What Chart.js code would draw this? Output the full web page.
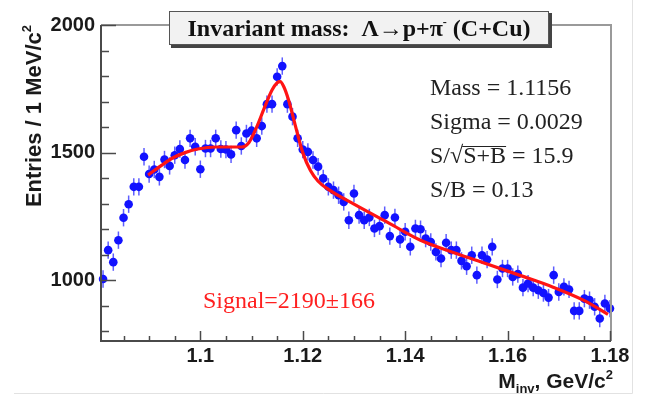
<!DOCTYPE html>
<html>
<head>
<meta charset="utf-8">
<script src="https://cdn.jsdelivr.net/npm/chart.js@4.4.1/dist/chart.umd.min.js"></script>
<style>
  html, body { margin: 0; padding: 0; background: #fff; }
  #wrap { width: 645px; height: 404px; position: relative; }
</style>
</head>
<body>
<div id="wrap"><canvas id="chart"></canvas></div>
<script>
// invariant mass bins (GeV/c^2), 1 MeV wide
const massBins = [
  1.081, 1.082, 1.083, 1.084, 1.085, 1.086, 1.087, 1.088, 1.089, 1.090,
  1.091, 1.092, 1.093, 1.094, 1.095, 1.096, 1.097, 1.098, 1.099, 1.100,
  1.101, 1.102, 1.103, 1.104, 1.105, 1.106, 1.107, 1.108, 1.109, 1.110,
  1.111, 1.112, 1.113, 1.114, 1.115, 1.116, 1.117, 1.118, 1.119, 1.120,
  1.121, 1.122, 1.123, 1.124, 1.125, 1.126, 1.127, 1.128, 1.129, 1.130,
  1.131, 1.132, 1.133, 1.134, 1.135, 1.136, 1.137, 1.138, 1.139, 1.140,
  1.141, 1.142, 1.143, 1.144, 1.145, 1.146, 1.147, 1.148, 1.149, 1.150,
  1.151, 1.152, 1.153, 1.154, 1.155, 1.156, 1.157, 1.158, 1.159, 1.160,
  1.161, 1.162, 1.163, 1.164, 1.165, 1.166, 1.167, 1.168, 1.169, 1.170,
  1.171, 1.172, 1.173, 1.174, 1.175, 1.176, 1.177, 1.178, 1.179, 1.180
];
const entries = [
  1005, 1118, 1071, 1157, 1245, 1298, 1366, 1366, 1484, 1416,
  1434, 1405, 1473, 1448, 1490, 1514, 1471, 1556, 1523, 1435,
  1516, 1516, 1556, 1514, 1512, 1493, 1588, 1526, 1575, 1586,
  1556, 1604, 1690, 1690, 1797, 1839, 1690, 1641, 1556, 1512,
  1503, 1471, 1445, 1399, 1366, 1353, 1333, 1307, 1235, 1340,
  1255, 1235, 1246, 1203, 1212, 1255, 1173, 1246, 1160, 1190,
  1131, 1203, 1200, 1163, 1150, 1111, 1085, 1147, 1118, 1118,
  1076, 1055, 1098, 1020, 1098, 1081, 1131, 1003, 1046, 1046,
  1013, 1024, 971, 987, 971, 961, 950, 932, 1020, 954,
  974, 964, 880, 880, 928, 922, 896, 850, 909, 889
];
const errBar = 34;

// fit curve
const fitMass = [
  1.0898, 1.0922, 1.0945, 1.0970, 1.0995, 1.1030, 1.1060, 1.1080, 1.1095, 1.1110,
  1.1125, 1.1140, 1.1150, 1.1156, 1.1163, 1.1172, 1.1185, 1.1200, 1.1215, 1.1230,
  1.1250, 1.1300, 1.1370, 1.1430, 1.1500, 1.1560, 1.1620, 1.1690, 1.1750, 1.1796
];
const fitValues = [
  1412, 1447, 1478, 1500, 1514, 1522, 1522, 1522, 1540, 1600,
  1675, 1745, 1774, 1778, 1758, 1708, 1610, 1500, 1430, 1388,
  1356, 1298, 1222, 1157, 1105, 1064, 1022, 972, 920, 866
];

const xTickLabels = [1.1, 1.12, 1.14, 1.16, 1.18];
const yTickLabels = [1000, 1500, 2000];
const statLines = ['Mass = 1.1156', 'Sigma = 0.0029', 'S/\u221AS+B = 15.9', 'S/B = 0.13'];
const signalText = 'Signal=2190\u00B1166';

const SANS = '"Liberation Sans", Arial, sans-serif';
const SERIF = '"Liberation Serif", "Times New Roman", serif';

const rootStyle = {
  id: 'rootStyle',
  beforeDatasetsDraw(chart) {
    const { ctx, scales: { x, y } } = chart;
    ctx.save();
    ctx.strokeStyle = 'rgba(40,40,255,0.75)';
    ctx.lineWidth = 1.5;
    massBins.forEach((m, i) => {
      const px = x.getPixelForValue(m);
      ctx.beginPath();
      ctx.moveTo(px, y.getPixelForValue(entries[i] - errBar));
      ctx.lineTo(px, y.getPixelForValue(entries[i] + errBar));
      ctx.stroke();
    });
    ctx.restore();
  },
  afterDraw(chart) {
    const { ctx, chartArea: a, scales: { x, y } } = chart;
    ctx.save();

    // outer picture edge
    ctx.strokeStyle = '#e2e2e2';
    ctx.lineWidth = 1;
    ctx.beginPath();
    ctx.moveTo(14, 393.5); ctx.lineTo(632.5, 393.5); ctx.lineTo(632.5, 0);
    ctx.stroke();

    // frame top/right
    ctx.strokeStyle = '#9a9a9a';
    ctx.lineWidth = 2;
    ctx.beginPath();
    ctx.moveTo(a.left, a.top); ctx.lineTo(a.right + 1, a.top); ctx.lineTo(a.right + 1, a.bottom);
    ctx.stroke();

    // axes left/bottom
    ctx.strokeStyle = '#4a4a4a';
    ctx.beginPath();
    ctx.moveTo(a.left, a.top); ctx.lineTo(a.left, a.bottom); ctx.lineTo(a.right + 1, a.bottom);
    ctx.stroke();

    // ticks, pointing inside
    ctx.lineWidth = 1.5;
    for (let v = 1.085; v <= 1.1801; v += 0.005) {
      const px = Math.round(x.getPixelForValue(v)) + 0.5;
      const major = xTickLabels.some(t => Math.abs(t - v) < 1e-6);
      ctx.beginPath();
      ctx.moveTo(px, a.bottom);
      ctx.lineTo(px, a.bottom - (major ? 10 : 5));
      ctx.stroke();
    }
    for (let v = 800; v <= 2000; v += 100) {
      const py = Math.round(y.getPixelForValue(v)) + 0.5;
      const major = yTickLabels.includes(v);
      ctx.beginPath();
      ctx.moveTo(a.left, py);
      ctx.lineTo(a.left + (major ? 15 : 8), py);
      ctx.stroke();
    }

    // title box
    ctx.fillStyle = '#444';
    ctx.fillRect(171, 13, 381, 35);
    ctx.fillStyle = '#f2f2f2';
    ctx.fillRect(169, 11, 380, 34);
    ctx.strokeStyle = '#555';
    ctx.lineWidth = 1;
    ctx.strokeRect(169.5, 11.5, 379, 33);

    ctx.fillStyle = '#111';
    ctx.textBaseline = 'alphabetic';
    ctx.font = 'bold 24px ' + SERIF;
    const t1 = 'Invariant mass:  \u039B\u2192p+\u03C0';
    const t2 = ' (C+Cu)';
    const w1 = ctx.measureText(t1).width;
    const w2 = ctx.measureText(t2).width;
    ctx.font = 'bold 12px ' + SERIF;
    const ws = ctx.measureText('-').width;
    const tx = 359 - (w1 + ws + w2) / 2;
    ctx.font = 'bold 24px ' + SERIF;
    ctx.fillText(t1, tx, 36);
    ctx.font = 'bold 12px ' + SERIF;
    ctx.fillText('-', tx + w1, 26);
    ctx.font = 'bold 24px ' + SERIF;
    ctx.fillText(t2, tx + w1 + ws, 36);

    // fit results
    ctx.font = '24px ' + SERIF;
    ctx.fillStyle = '#222';
    ctx.strokeStyle = '#222';
    const lineY = [95, 129, 163, 197];
    statLines.forEach((s, i) => ctx.fillText(s, 430, lineY[i]));
    const pre = ctx.measureText('S/\u221A').width;
    const rad = ctx.measureText('S+B').width;
    ctx.lineWidth = 1.2;
    ctx.beginPath();
    ctx.moveTo(430 + pre - 1, 146.5);
    ctx.lineTo(430 + pre + rad, 146.5);
    ctx.stroke();

    // signal
    ctx.fillStyle = '#ff2020';
    ctx.fillText(signalText, 203, 308);

    // axis titles
    ctx.fillStyle = '#1a1a1a';
    ctx.font = 'bold 21px ' + SANS;
    const xt1 = 'M';
    const xt2 = ', GeV/c';
    const wM = ctx.measureText(xt1).width;
    const wG = ctx.measureText(xt2).width;
    ctx.font = 'bold 13px ' + SANS;
    const wInv = ctx.measureText('inv').width;
    const w2s = ctx.measureText('2').width;
    let xx = 613 - (wM + wInv + wG + w2s);
    const by = 388;
    ctx.font = 'bold 21px ' + SANS;
    ctx.fillText(xt1, xx, by); xx += wM;
    ctx.font = 'bold 13px ' + SANS;
    ctx.fillText('inv', xx, by + 5); xx += wInv;
    ctx.font = 'bold 21px ' + SANS;
    ctx.fillText(xt2, xx, by); xx += wG;
    ctx.font = 'bold 13px ' + SANS;
    ctx.fillText('2', xx, by - 9);

    ctx.translate(41, 25);
    ctx.rotate(-Math.PI / 2);
    ctx.textAlign = 'right';
    ctx.font = 'bold 13px ' + SANS;
    ctx.fillText('2', 0, -10);
    const wy2 = ctx.measureText('2').width;
    ctx.font = 'bold 22px ' + SANS;
    ctx.fillText('Entries / 1 MeV/c', -wy2, 0);

    ctx.restore();
  }
};

const tickFont = { family: SANS, weight: 'bold', size: 20 };

new Chart(document.getElementById('chart'), {
  type: 'scatter',
  data: {
    datasets: [
      {
        data: fitMass.map((m, i) => ({ x: m, y: fitValues[i] })),
        showLine: true,
        borderColor: '#ff1414',
        borderWidth: 3.2,
        pointRadius: 0,
        cubicInterpolationMode: 'monotone',
        fill: false
      },
      {
        data: massBins.map((m, i) => ({ x: m, y: entries[i] })),
        backgroundColor: '#1212ff',
        borderWidth: 0,
        pointRadius: 4.3,
        clip: false
      }
    ]
  },
  options: {
    responsive: true,
    maintainAspectRatio: false,
    animation: false,
    devicePixelRatio: 1,
    layout: { padding: { left: 0, right: 35, top: 25, bottom: 0 } },
    plugins: { legend: { display: false }, tooltip: { enabled: false } },
    scales: {
      x: {
        type: 'linear',
        min: 1.0806,
        max: 1.18,
        afterFit: s => { s.height = 63; },
        afterBuildTicks: s => { s.ticks = xTickLabels.map(v => ({ value: v })); },
        grid: { display: false, drawTicks: false },
        border: { display: false },
        ticks: { autoSkip: false, maxRotation: 0, padding: 3, color: '#1a1a1a', font: tickFont, callback: v => String(v) }
      },
      y: {
        type: 'linear',
        min: 762,
        max: 2000,
        afterFit: s => { s.width = 101; },
        afterBuildTicks: s => { s.ticks = yTickLabels.map(v => ({ value: v })); },
        grid: { display: false, drawTicks: false },
        border: { display: false },
        ticks: { autoSkip: false, padding: 6, color: '#1a1a1a', font: tickFont, callback: v => String(v) }
      }
    }
  },
  plugins: [rootStyle]
});
</script>
</body>
</html>
